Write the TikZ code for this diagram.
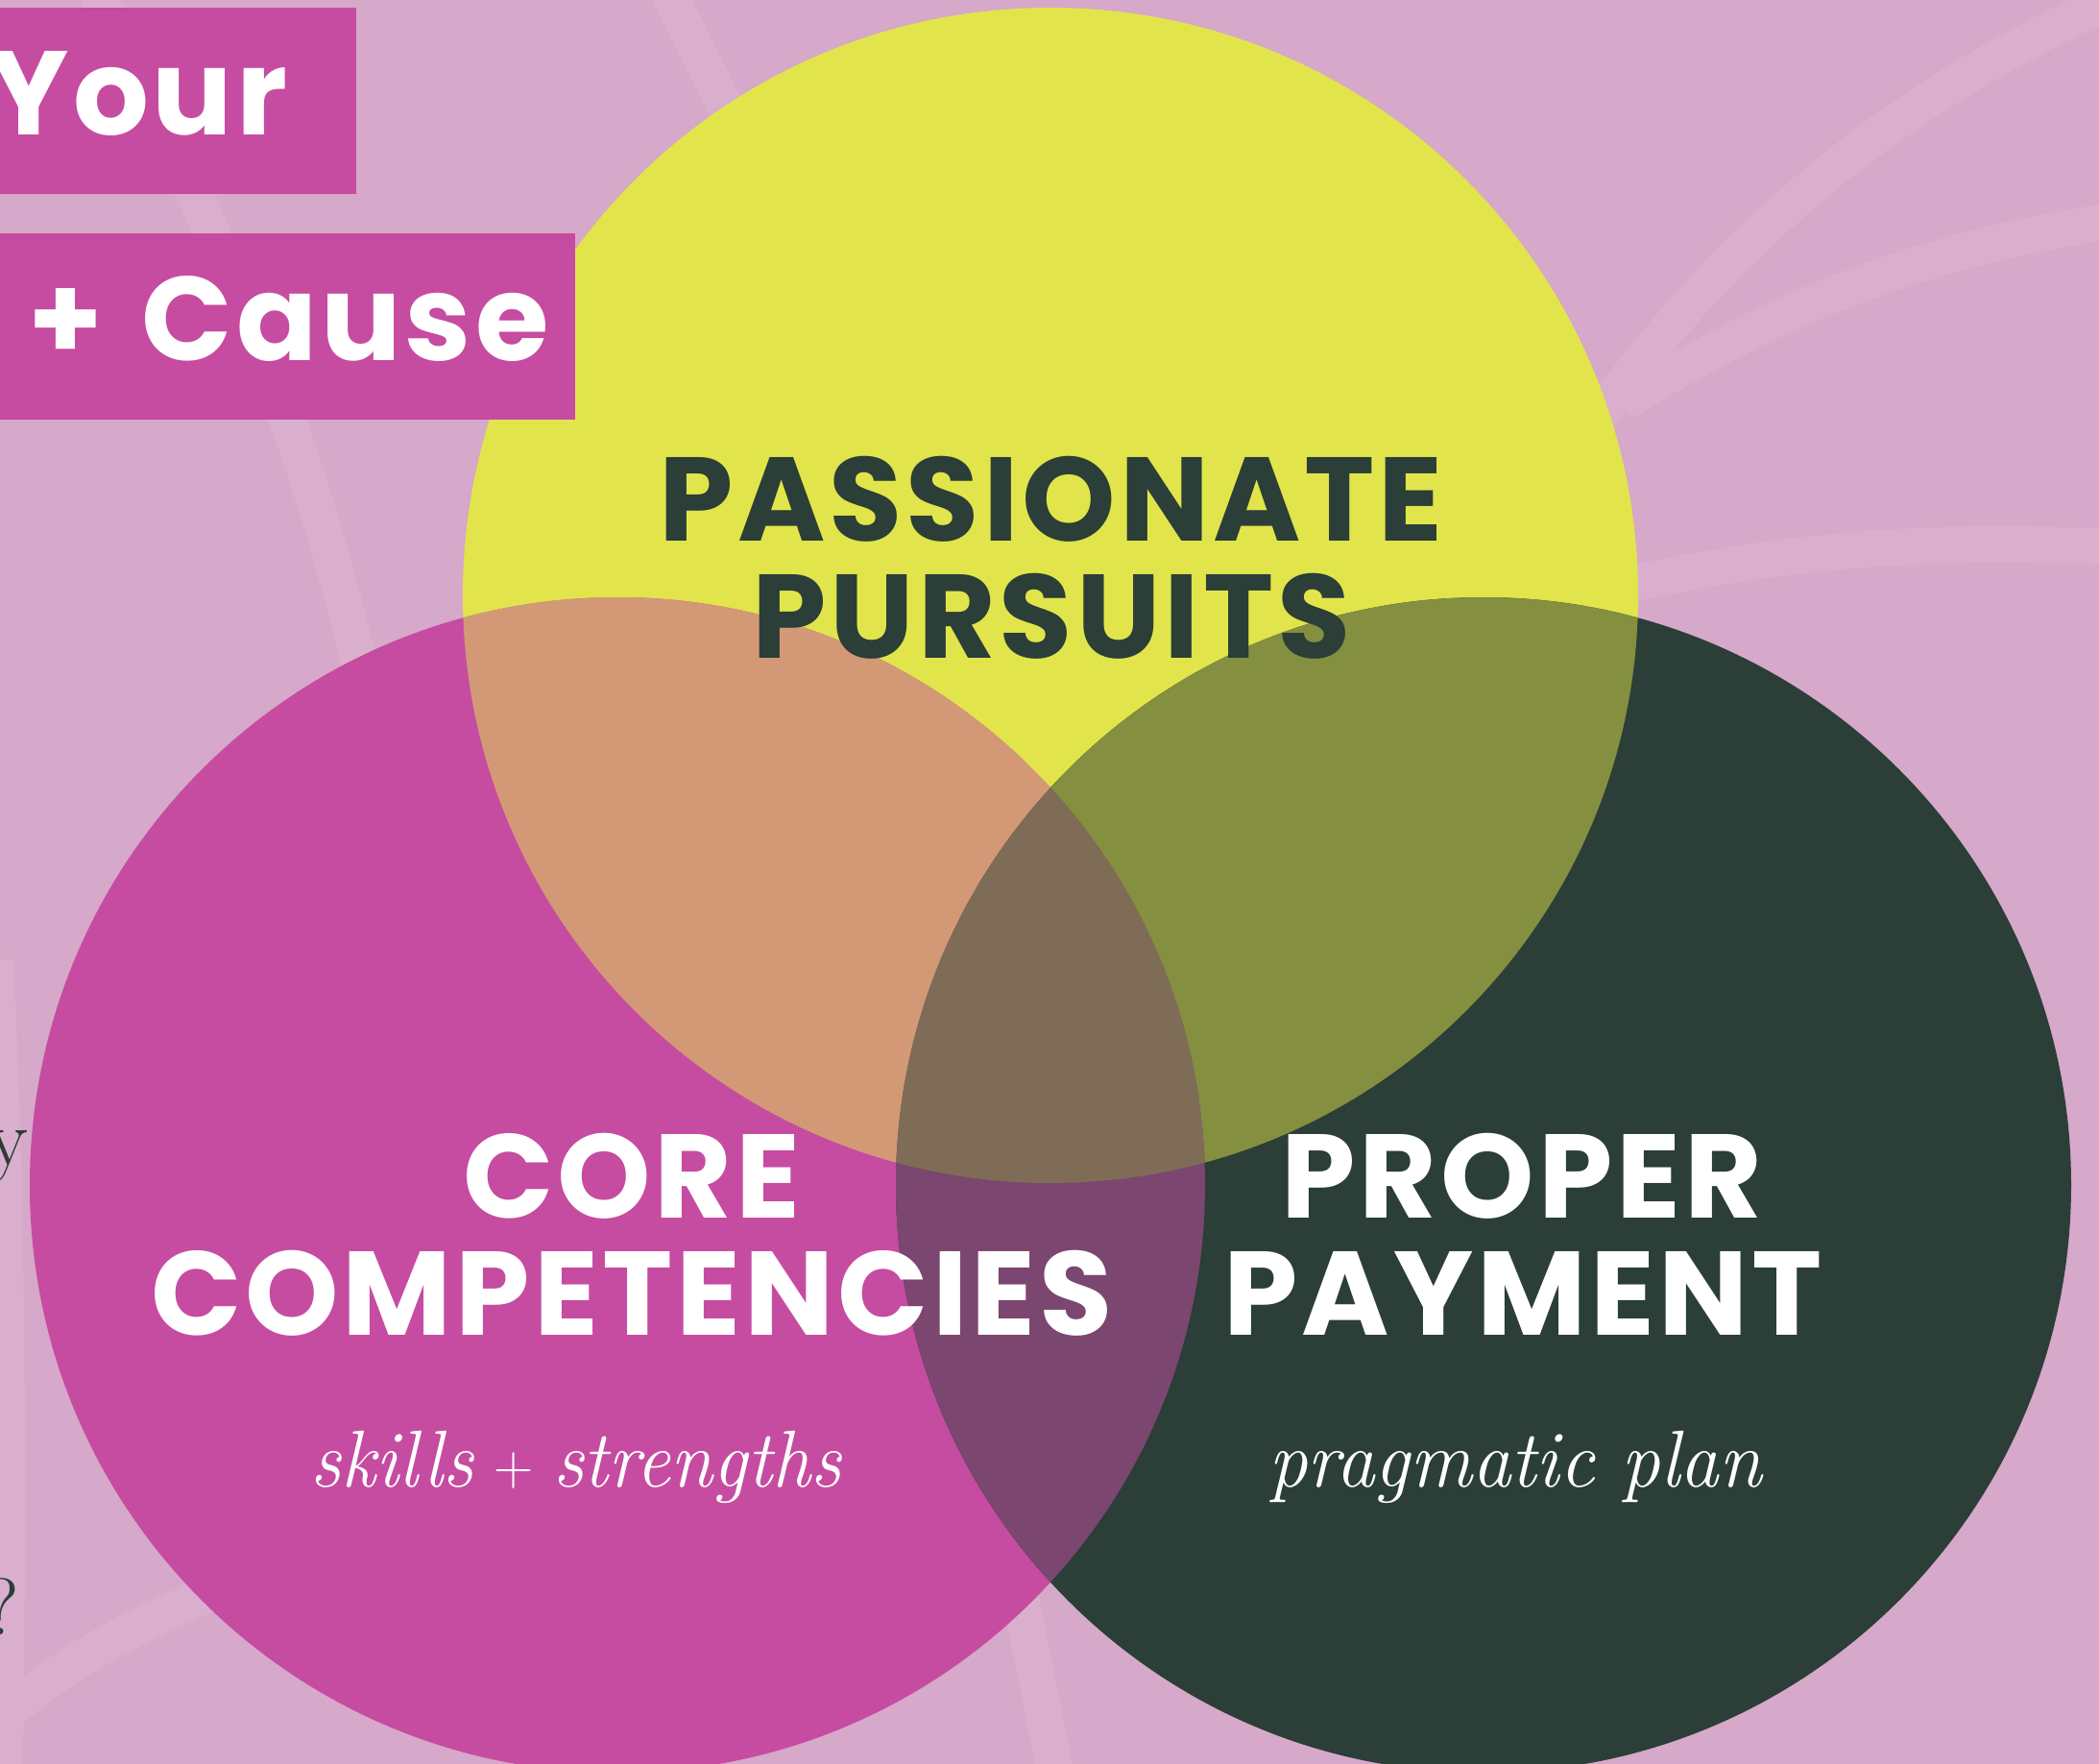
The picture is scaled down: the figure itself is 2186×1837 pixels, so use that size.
\documentclass[tikz,border=0pt]{standalone}
\usepackage{fontspec}
\newfontfamily\pop{Poppins}[LetterSpace=3.2]
\definecolor{colbg}{HTML}{D6A8C9}
\definecolor{colarc}{HTML}{DAAFCD}
\definecolor{coly}{HTML}{E1E54B}
\definecolor{colm}{HTML}{C64CA1}
\definecolor{colg}{HTML}{2B3E38}
\definecolor{colym}{HTML}{D39977}
\definecolor{colyg}{HTML}{848F40}
\definecolor{colmg}{HTML}{7B466F}
\definecolor{colymg}{HTML}{7F6C56}
\definecolor{coldk}{HTML}{2B3E38}
\begin{document}
\begin{tikzpicture}[x=0.5pt,y=-0.5pt,
  head/.style={font=\pop\bfseries\fontsize{62}{62}\selectfont, inner sep=0pt, anchor=base},
  sub/.style={font=\itshape\fontsize{42}{42}\selectfont, text=white, inner sep=0pt, anchor=base},
  band/.style={line width=19pt, draw=colarc, line cap=butt},
  serif/.style={font=\fontsize{42}{42}\selectfont, text=coldk, inner sep=0pt, anchor=base east}]
\useasboundingbox (0,0) rectangle (2186,1837);
\fill[colbg] (0,0) rectangle (2186,1837);
% faint background bands
\draw[band] (95,-20) .. controls (230,250) and (340,480) .. (400,820);
\draw[band] (690,-20) -- (780,160);
\draw[band] (2200,0) .. controls (2000,90) and (1820,220) .. (1660,440);
\draw[band] (2200,230) .. controls (2000,260) and (1850,320) .. (1690,420);
\draw[band] (2200,570) .. controls (2000,560) and (1850,575) .. (1690,610);
\draw[band] (1062,1660) -- (1100,1850);
\draw[band] (-5,1000) .. controls (10,1300) and (8,1600) .. (5,1850);
\draw[band] (0,1790) .. controls (80,1720) and (150,1690) .. (260,1640);
% circles
\fill[coly] (1094,620) circle[radius=306pt];
\fill[colm] (643,1234) circle[radius=306pt];
\fill[colg] (1545,1234) circle[radius=306pt];
\begin{scope}
  \clip (1094,620) circle[radius=306pt];
  \fill[colym] (643,1234) circle[radius=306pt];
  \fill[colyg] (1545,1234) circle[radius=306pt];
\end{scope}
\begin{scope}
  \clip (643,1234) circle[radius=306pt];
  \fill[colmg] (1545,1234) circle[radius=306pt];
  \clip (1094,620) circle[radius=306pt];
  \fill[colymg] (1545,1234) circle[radius=306pt];
\end{scope}
% title boxes
\fill[colm] (0,8) rectangle (371,202);
\fill[colm] (0,243) rectangle (599,437);
\node[head, text=white, anchor=base east] (your) at (300,140) {Your};
\node[head, text=white, anchor=base east] (cause) at (572,375) {+\hspace{5pt} Cause};
% headings
\node[head, text=coldk] (pp1) at (1095,563) {PASSIONATE};
\node[head, text=coldk] (pp2) at (1095,685) {PURSUITS};
\node[head, text=white] (cc1) at (658,1268) {CORE};
\node[head, text=white] (cc2) at (658,1390) {COMPETENCIES};
\node[head, text=white] (pm1) at (1585,1268) {PROPER};
\node[head, text=white] (pm2) at (1586,1390) {PAYMENT};
\node[sub] (s1) at (600,1548) {\scalebox{0.95}[1]{skills\hspace{11pt}\raisebox{1pt}{\fontsize{30}{30}\selectfont\upshape +}\hspace{11pt}strengths}};
\node[sub] (s2) at (1578,1548) {\scalebox{0.965}[1]{pragmatic plan}};
% cut-off left text
\node[serif] (ly) at (30,1213) {y};
\node[serif] (lq) at (20,1702) {?};
\end{tikzpicture}
\end{document}
